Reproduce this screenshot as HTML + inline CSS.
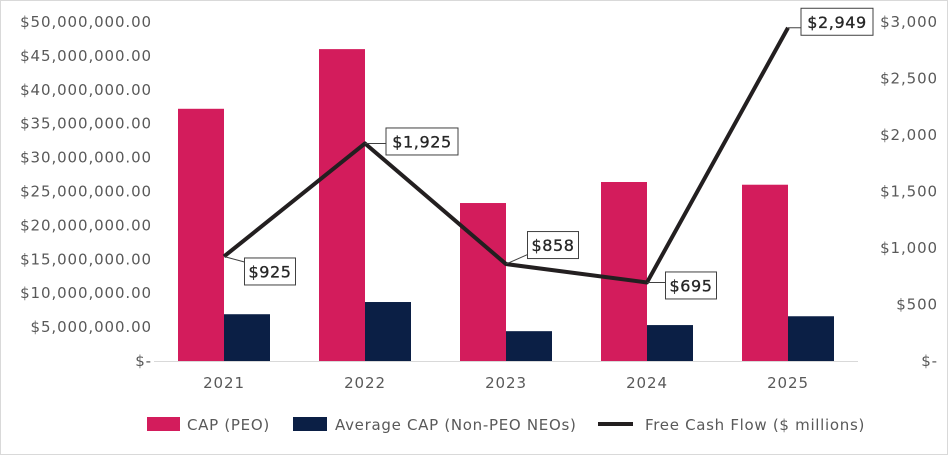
<!DOCTYPE html>
<html><head><meta charset="utf-8"><style>
html,body{margin:0;padding:0;background:#fff;}
svg{display:block;font-family:"DejaVu Sans","Liberation Sans",sans-serif;}
</style></head><body>
<svg id="chart" width="948" height="455" viewBox="0 0 948 455">
<rect x="0.5" y="0.5" width="947" height="454" fill="#fff" stroke="#d9d9d9"/>
<g id="bars"></g><g id="axes"></g><g id="line"></g><g id="labels"></g><g id="legend"></g>
</svg>
<script>
const categories=["2021","2022","2023","2024","2025"];
const capPeo=[37200000,46000000,23300000,26400000,26000000];
const capNeo=[6900000,8700000,4400000,5300000,6600000];
const fcf=[925,1925,858,695,2949];
const fcfLabels=["$925","$1,925","$858","$695","$2,949"];
const leftTicks=[0,5000000,10000000,15000000,20000000,25000000,30000000,35000000,40000000,45000000,50000000];
const rightTicks=[0,500,1000,1500,2000,2500,3000];
const labelOffsets=[[46,15],[57,-2],[47,-19],[44,3],[49,-6]];

const NS="http://www.w3.org/2000/svg";
const y0=361,y1=22;
const yL=v=>y0-(v/50000000)*(y0-y1);
const yR=v=>y0-(v/3000)*(y0-y1);
const xC=i=>224+i*141;
const bw=46;
function mk(tag,attrs,parent,text){const e=document.createElementNS(NS,tag);for(const k in attrs)e.setAttribute(k,attrs[k]);if(text!=null)e.textContent=text;parent.appendChild(e);return e;}
const gA=document.getElementById('axes'),gB=document.getElementById('bars'),gL=document.getElementById('line'),gT=document.getElementById('labels'),gG=document.getElementById('legend');
const LS=0.9;
leftTicks.forEach(v=>{
  const s=v===0?"$-":"$"+v.toLocaleString("en-US")+".00";
  const t=mk('text',{x:152,y:yL(v)+5,'text-anchor':'end','font-size':15,fill:'#595959','letter-spacing':LS},gA,s);
  
  
});
rightTicks.forEach(v=>{
  const s=v===0?"$-":"$"+v.toLocaleString("en-US");
  const t=mk('text',{x:938,y:yR(v)+5,'text-anchor':'end','font-size':15,fill:'#595959','letter-spacing':LS},gA,s);
  
  
});
const ax=mk('line',{x1:154,x2:858,y1:y0+0.5,y2:y0+0.5,stroke:'#d9d9d9'},gA);


categories.forEach((c,i)=>{
  const t=mk('text',{x:xC(i),y:388,'text-anchor':'middle','font-size':15,fill:'#595959','letter-spacing':LS},gA,c);
  
  
  const b1=mk('rect',{x:xC(i)-bw,y:yL(capPeo[i]),width:bw,height:y0-yL(capPeo[i]),fill:'#d31c5c'},gB);
  
  
  const b2=mk('rect',{x:xC(i),y:yL(capNeo[i]),width:bw,height:y0-yL(capNeo[i]),fill:'#0b1f45'},gB);
  
  
});
const pts=fcf.map((v,i)=>xC(i)+","+yR(v)).join(" ");
const pl=mk('polyline',{points:pts,fill:'none',stroke:'#231f20','stroke-width':4,'stroke-linejoin':'round'},gL);


fcf.forEach((v,i)=>{
  const px=xC(i),py=yR(v);
  const lx=px+labelOffsets[i][0],ly=py+labelOffsets[i][1];
  const w=fcfLabels[i].length*10.5+9,h=27;
  const bx=lx-w/2,by=ly-h/2;
  const ln=mk('line',{x1:px,y1:py,x2:bx,y2:Math.max(by+4,Math.min(by+h-4,py)),stroke:'#404040','stroke-width':1},gT);
  
  
  const r=mk('rect',{x:bx,y:by,width:w,height:h,fill:'#fff',stroke:'#404040','stroke-width':1},gT);
  
  
  const t=mk('text',{x:lx,y:ly+6,'text-anchor':'middle','font-size':16,fill:'#262626','letter-spacing':0.6,stroke:'#262626','stroke-width':0.3},gT,fcfLabels[i]);
  
  
});
const l1=mk('rect',{x:147,y:417,width:33,height:14,fill:'#d31c5c'},gG);


const t1=mk('text',{x:187,y:430,'font-size':15,fill:'#595959','letter-spacing':0.7},gG,"CAP (PEO)");


const l2=mk('rect',{x:293,y:417,width:34,height:14,fill:'#0b1f45'},gG);


const t2=mk('text',{x:335,y:430,'font-size':15,fill:'#595959','letter-spacing':0.7},gG,"Average CAP (Non-PEO NEOs)");


const l3=mk('line',{x1:598,x2:633,y1:424,y2:424,stroke:'#231f20','stroke-width':4},gG);


const t3=mk('text',{x:645,y:430,'font-size':15,fill:'#595959','letter-spacing':0.7},gG,"Free Cash Flow ($ millions)");


</script>
</body></html>
